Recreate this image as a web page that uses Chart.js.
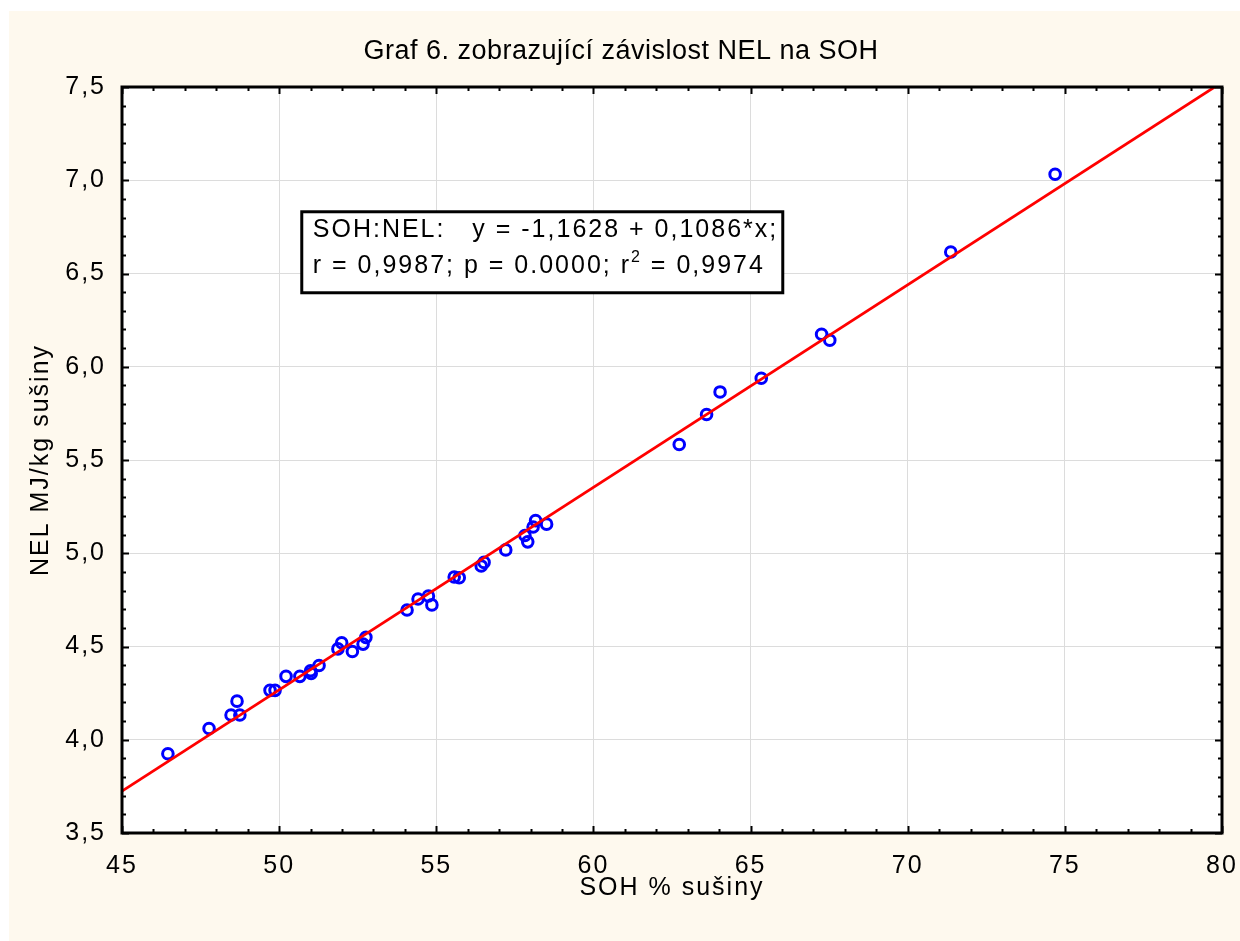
<!DOCTYPE html>
<html>
<head>
<meta charset="utf-8">
<script src="https://cdn.jsdelivr.net/npm/chart.js@4.4.0/dist/chart.umd.min.js"></script>
<style>
  html, body { margin: 0; padding: 0; background: #fff; }
  #wrap { position: absolute; left: 0; top: 0; width: 1240px; height: 941px; }
</style>
</head>
<body>
<div id="wrap"><canvas id="chart_6" width="1240" height="941"></canvas></div>
<script>
// SOH % susiny (x) and NEL MJ/kg susiny (y)
const soh = [46.46, 47.77, 48.47, 48.66, 48.75, 49.71, 49.87, 50.22, 50.66, 51.0, 51.02, 51.27,
  51.87, 51.99, 52.33, 52.67, 52.76, 54.07, 54.42, 54.75, 54.86, 55.57, 55.73, 56.43, 56.52,
  57.21, 57.82, 57.91, 58.08, 58.16, 58.51, 62.73, 63.6, 64.03, 65.34, 67.26, 67.52, 71.37, 74.69];
const nel = [3.925, 4.06, 4.133, 4.207, 4.133, 4.265, 4.265, 4.34, 4.34, 4.37, 4.355, 4.398,
  4.487, 4.52, 4.473, 4.513, 4.549, 4.696, 4.755, 4.771, 4.723, 4.873, 4.869, 4.932, 4.951,
  5.018, 5.095, 5.061, 5.141, 5.175, 5.156, 5.583, 5.744, 5.865, 5.938, 6.174, 6.142, 6.615, 7.032];

// regression shown in the box
const fitIntercept = -1.1628;
const fitSlope = 0.1086;
const fitRange = [45, 80];

const xRange = [45, 80];
const yRange = [3.5, 7.5];

const titleText = "Graf 6. zobrazující závislost NEL na SOH";
const xTitle = "SOH % sušiny";
const yTitle = "NEL MJ/kg sušiny";
const boxLine1 = "SOH:NEL:   y = -1,1628 + 0,1086*x;";
const boxLine2 = ["r = 0,9987; p = 0.0000; r", "2", " = 0,9974"];

const FONT = '"Liberation Sans", Arial, sans-serif';

const bgPlugin = {
  id: "bg",
  beforeDraw(chart) {
    const ctx = chart.ctx;
    ctx.save();
    ctx.fillStyle = "#ffffff";
    ctx.fillRect(0, 0, chart.width, chart.height);
    ctx.fillStyle = "#fef9ee";
    ctx.fillRect(9, 11, chart.width, chart.height);
    const a = chart.chartArea;
    ctx.fillStyle = "#ffffff";
    ctx.fillRect(a.left, a.top, a.right - a.left, a.bottom - a.top);
    ctx.restore();
    // the original font is wider than Liberation Sans
    ctx.letterSpacing = "2px";
  },
};

// title and text box with the regression
const boxPlugin = {
  id: "fitbox",
  afterDatasetsDraw(chart) {
    const ctx = chart.ctx;
    const px = chart.scales.x.getPixelForValue(50.72);
    const py = chart.scales.y.getPixelForValue(6.831);
    const w = 481, h = 81;
    ctx.save();
    ctx.fillStyle = "#fff";
    ctx.fillRect(px, py, w, h);
    ctx.lineWidth = 3;
    ctx.strokeStyle = "#000";
    ctx.strokeRect(px, py, w, h);
    ctx.fillStyle = "#000";
    ctx.textBaseline = "alphabetic";
    ctx.textAlign = "left";
    ctx.letterSpacing = "2px";
    ctx.font = "25px " + FONT;
    ctx.fillText(boxLine1, px + 11, py + 25);
    let tx = px + 11;
    ctx.fillText(boxLine2[0], tx, py + 61);
    tx += ctx.measureText(boxLine2[0]).width;
    ctx.font = "16px " + FONT;
    ctx.fillText(boxLine2[1], tx, py + 50);
    tx += ctx.measureText(boxLine2[1]).width;
    ctx.font = "25px " + FONT;
    ctx.fillText(boxLine2[2], tx, py + 61);

    ctx.letterSpacing = "0.5px";
    ctx.font = "27px " + FONT;
    ctx.textAlign = "center";
    ctx.fillText(titleText, 621, 59);
    ctx.restore();
  },
};

// frame with inward ticks on all four sides
const framePlugin = {
  id: "frame",
  afterDraw(chart) {
    const ctx = chart.ctx;
    const a = chart.chartArea;
    const xs = chart.scales.x, ys = chart.scales.y;
    ctx.save();
    ctx.strokeStyle = "#000";
    ctx.lineWidth = 2;
    ctx.beginPath();
    for (let v = xRange[0]; v <= xRange[1] + 0.001; v += 1) {
      const p = Math.round(xs.getPixelForValue(v)) + 0.5;
      const len = Math.round(v) % 5 === 0 ? 7 : 4;
      ctx.moveTo(p, a.bottom); ctx.lineTo(p, a.bottom - len);
      ctx.moveTo(p, a.top); ctx.lineTo(p, a.top + len);
    }
    for (let i = 0; i <= 40; i++) {
      const v = yRange[0] + i * 0.1;
      const p = Math.round(ys.getPixelForValue(v)) + 0.5;
      const len = i % 5 === 0 ? 7 : 4;
      ctx.moveTo(a.left, p); ctx.lineTo(a.left + len, p);
      ctx.moveTo(a.right, p); ctx.lineTo(a.right - len, p);
    }
    ctx.stroke();
    ctx.lineWidth = 3;
    ctx.strokeRect(a.left, a.top, a.right - a.left, a.bottom - a.top);
    ctx.restore();
  },
};

const ctx6 = document.getElementById("chart_6").getContext("2d");

const myChart6 = new Chart(ctx6, {
  data: {
    datasets: [
      {
        type: "scatter",
        data: soh.map((x, i) => ({ x: x, y: nel[i] })),
        pointRadius: 5.3,
        pointHoverRadius: 5.3,
        pointBorderWidth: 3,
        borderColor: "#0000ff",
        backgroundColor: "rgba(0,0,0,0)",
        pointStyle: "circle",
      },
      {
        type: "line",
        data: fitRange.map((x) => ({ x: x, y: fitIntercept + fitSlope * x })),
        borderColor: "#ff0000",
        borderWidth: 2.8,
        pointRadius: 0,
        fill: false,
        order: -1,
      },
    ],
  },
  options: {
    responsive: false,
    animation: false,
    layout: {
      padding: { top: 87, right: 18, left: 0, bottom: 0 },
    },
    plugins: {
      legend: { display: false },
      tooltip: { enabled: false },
      title: { display: false },
    },
    scales: {
      x: {
        type: "linear",
        min: xRange[0],
        max: xRange[1],
        border: { display: false },
        grid: { color: "#dcdcdc", lineWidth: 1, drawTicks: false },
        ticks: {
          stepSize: 5,
          color: "#000",
          padding: 18,
          font: { family: FONT, size: 25 },
        },
        title: {
          display: true,
          text: xTitle,
          color: "#000",
          font: { family: FONT, size: 25, lineHeight: 1.2 },
          padding: { bottom: 38 },
        },
        afterFit: (scale) => {
          scale.height = 108;
          scale.paddingLeft = 0;
          scale.paddingRight = 0;
        },
      },
      y: {
        type: "linear",
        min: yRange[0],
        max: yRange[1],
        border: { display: false },
        grid: { color: "#dcdcdc", lineWidth: 1, drawTicks: false },
        ticks: {
          stepSize: 0.5,
          color: "#000",
          padding: 16,
          font: { family: FONT, size: 25 },
          callback: (v) => v.toFixed(1).replace(".", ","),
        },
        title: {
          display: true,
          text: yTitle,
          color: "#000",
          font: { family: FONT, size: 25, lineHeight: 1.2 },
          padding: { top: 26 },
        },
        afterFit: (scale) => {
          scale.width = 122;
          scale.paddingTop = 0;
          scale.paddingBottom = 0;
        },
      },
    },
  },
  plugins: [bgPlugin, boxPlugin, framePlugin],
});
</script>
</body>
</html>
